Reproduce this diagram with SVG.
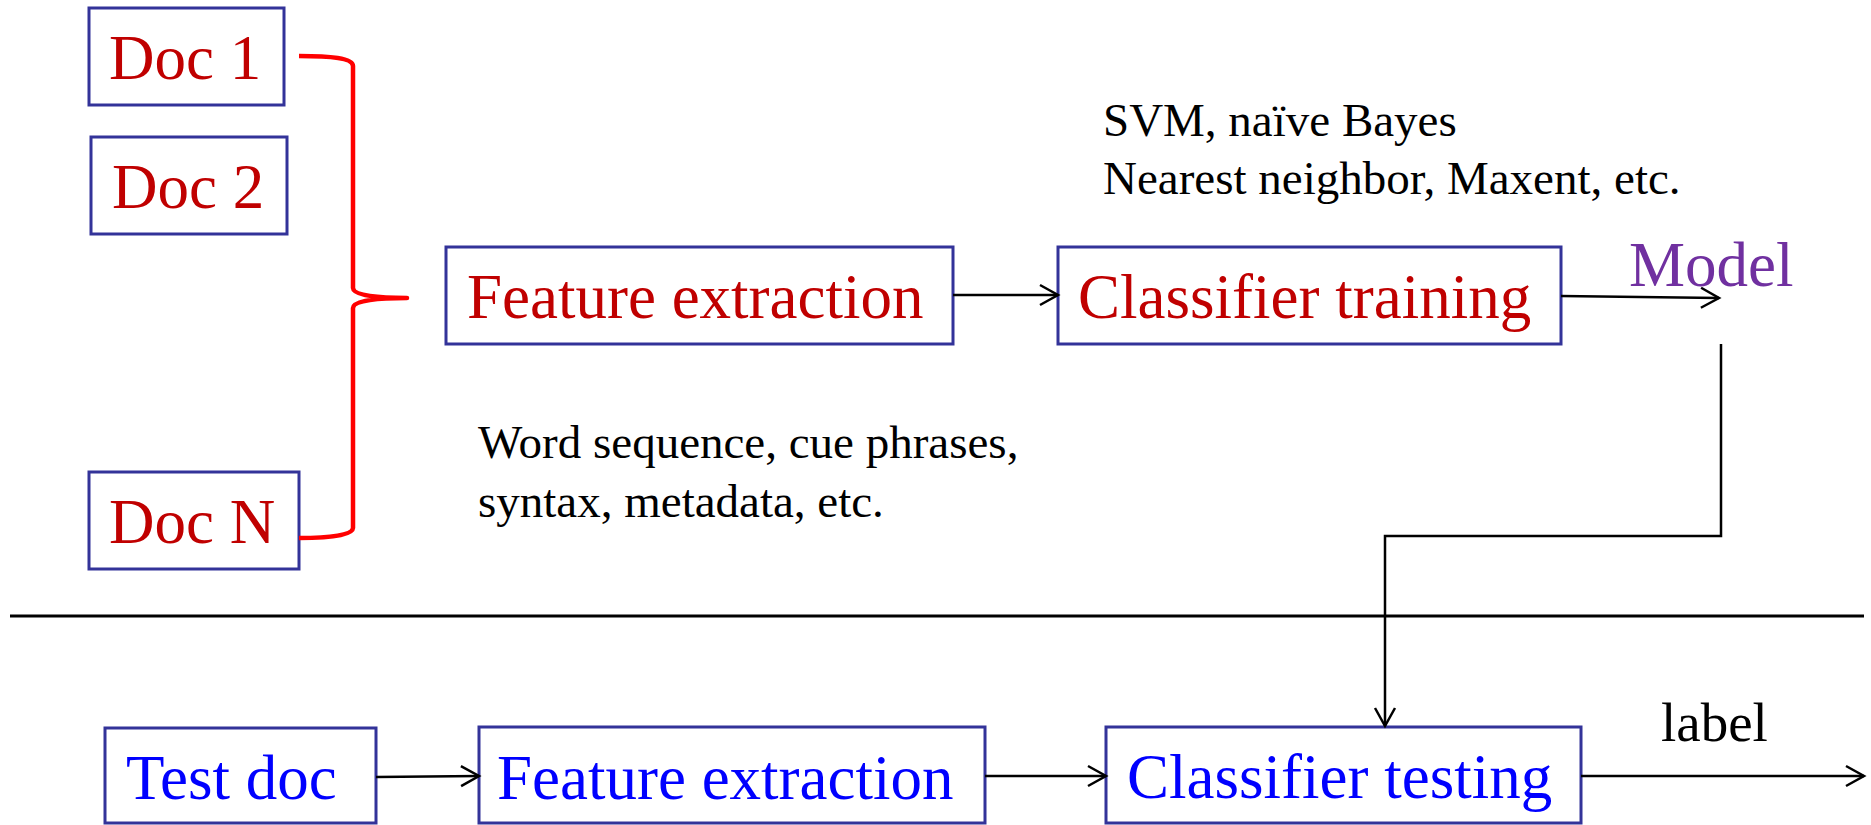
<svg xmlns="http://www.w3.org/2000/svg" width="1871" height="825" viewBox="0 0 1871 825">
<style>
.box{fill:#fff;stroke:#333399;stroke-width:3}
.big{font-family:"Liberation Serif","Times New Roman",serif;font-size:63px}
.red{fill:#C00000}
.blue{fill:#0000FF}
.small{font-family:"Liberation Serif","Times New Roman",serif;font-size:47px;fill:#000}
.lbl{font-size:55px}
.conn{fill:none;stroke:#000;stroke-width:2.5}
</style>
<defs>
<marker id="arr" markerUnits="userSpaceOnUse" markerWidth="22" markerHeight="24" refX="18" refY="11" orient="auto" overflow="visible">
<path d="M0,1 L18,11 L0,21" fill="none" stroke="#000" stroke-width="2.5"/>
</marker>
</defs>
<rect width="1871" height="825" fill="#fff"/>

<g id="doc1"><rect class="box" x="89" y="8" width="195" height="97"/><text class="big red" x="109" y="79">Doc 1</text></g>
<g id="doc2"><rect class="box" x="91" y="137" width="196" height="97"/><text class="big red" x="112" y="208">Doc 2</text></g>
<g id="docN"><rect class="box" x="89" y="472" width="210" height="97"/><text class="big red" x="109" y="543">Doc N</text></g>

<g id="brace"><path d="M299,56 C330,56 353,58 353,66 L353,288 C353,296 380,298 407,298 C380,298 353,300 353,308 L353,528 C353,535 330,538 299,538" fill="none" stroke="#FF0000" stroke-width="4.5" stroke-linejoin="round"/></g>

<g id="fe1"><rect class="box" x="446" y="247" width="507" height="97"/><text class="big red" x="467" y="318">Feature extraction</text></g>
<g id="ct"><rect class="box" x="1058" y="247" width="503" height="97"/><text class="big red" x="1078" y="318">Classifier training</text></g>
<g id="model"><text class="big" x="1629" y="286" fill="#7030A0">Model</text></g>

<g id="note-algos">
<text class="small" x="1103" y="136">SVM, naïve Bayes</text>
<text class="small" x="1103" y="194">Nearest neighbor, Maxent, etc.</text>
</g>
<g id="note-features">
<text class="small" x="478" y="458">Word sequence, cue phrases,</text>
<text class="small" x="478" y="517">syntax, metadata, etc.</text>
</g>

<g id="divider"><line x1="10" y1="616" x2="1864" y2="616" stroke="#000" stroke-width="3"/></g>

<g id="testdoc"><rect class="box" x="105" y="728" width="271" height="95"/><text class="big blue" x="126" y="799">Test doc</text></g>
<g id="fe2"><rect class="box" x="479" y="727" width="506" height="96"/><text class="big blue" x="497" y="799">Feature extraction</text></g>
<g id="ctest"><rect class="box" x="1106" y="727" width="475" height="96"/><text class="big blue" x="1127" y="798">Classifier testing</text></g>
<g id="label"><text class="small lbl" x="1661" y="741">label</text></g>

<g id="connectors">
<line class="conn" x1="953" y1="295" x2="1058" y2="295" marker-end="url(#arr)"/>
<line class="conn" x1="1561" y1="296" x2="1719" y2="298" marker-end="url(#arr)"/>
<path class="conn" d="M1721,344 L1721,536 L1385,536 L1385,726" marker-end="url(#arr)"/>
<line class="conn" x1="376" y1="777" x2="479" y2="776" marker-end="url(#arr)"/>
<line class="conn" x1="985" y1="776" x2="1106" y2="776" marker-end="url(#arr)"/>
<line class="conn" x1="1581" y1="776" x2="1864" y2="776" marker-end="url(#arr)"/>
</g>
</svg>
